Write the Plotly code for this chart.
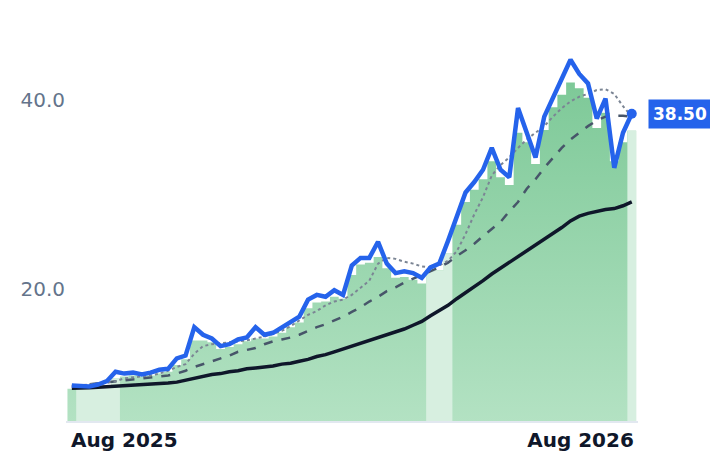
import pandas as pd
import plotly.graph_objects as go

dates = pd.date_range("2025-06-20", periods=65, freq="7D")

price = [9.85, 9.85, 9.75, 9.95, 10.3, 11.3, 11.1, 11.2, 11.0, 11.2, 11.5, 11.6, 12.7, 13.0, 16.0,
         15.2, 14.8, 14.0, 14.2, 14.7, 14.9, 16.0, 15.2, 15.4, 16.0, 16.5, 17.1, 18.9, 19.4, 19.2,
         19.9, 19.4, 22.5, 23.3, 23.3, 25.0, 22.7, 21.7, 21.9, 21.7, 21.2, 22.3, 22.7, 25.1, 27.7,
         30.2, 31.3, 32.6, 34.9, 32.6, 31.8, 39.1, 36.5, 33.9, 38.2, 40.1, 42.2, 44.2, 42.7, 41.7,
         38.0, 40.1, 32.8, 36.5, 38.5]

bars = [9.5, 9.5, 9.5, 9.6, 9.8, 10.6, 10.8, 10.9, 10.8, 10.9, 11.1, 11.3, 12.0, 12.6, 14.6,
        14.6, 14.4, 13.7, 13.9, 14.2, 14.5, 14.8, 14.8, 15.0, 15.4, 16.0, 16.5, 18.0, 18.6, 18.7,
        19.2, 19.0, 21.5, 22.6, 22.8, 23.4, 22.2, 21.2, 21.3, 21.0, 20.6, 21.9, 22.0, 23.8, 26.8,
        29.2, 30.5, 31.6, 33.5, 31.8, 31.0, 36.5, 35.5, 33.2, 36.8, 39.2, 40.5, 41.8, 41.2, 40.2,
        37.0, 38.6, 33.5, 35.5, 36.7]

# runs of pale bars (first index, last index)
light_runs = [(1, 5), (41, 43), (64, 64)]

ma_fast = [9.85, 9.85, 9.95, 10.05, 10.15, 10.3, 10.6, 10.7, 10.8, 10.9, 11.1, 11.4, 11.8, 12.1, 13.2,
           14.0, 14.2, 14.3, 14.4, 14.5, 14.6, 14.8, 15.0, 15.3, 15.6, 16.1, 16.7, 17.3, 17.7, 18.3,
           18.7, 18.9, 19.4, 20.2, 20.9, 22.7, 23.3, 23.2, 22.9, 22.7, 22.4, 22.3, 22.5, 23.0, 24.0,
           25.8, 27.9, 29.7, 32.0, 33.1, 33.9, 34.9, 35.8, 36.5, 37.2, 38.2, 39.1, 39.8, 40.3, 40.6,
           41.0, 41.1, 40.6, 39.3, 38.2]

ma_mid = [9.75, 9.85, 9.95, 10.05, 10.15, 10.25, 10.35, 10.45, 10.55, 10.65, 10.8, 10.9, 11.1, 11.4, 11.8,
          12.1, 12.4, 12.7, 13.0, 13.4, 13.6, 13.8, 14.2, 14.5, 14.7, 14.9, 15.2, 15.6, 16.0, 16.3,
          16.7, 17.1, 17.6, 18.1, 18.7, 19.2, 19.8, 20.2, 20.7, 21.1, 21.5, 21.9, 22.3, 22.8, 23.5,
          24.1, 24.8, 25.6, 26.3, 27.1, 28.2, 29.2, 30.6, 31.6, 32.8, 33.9, 34.9, 35.8, 36.5, 37.2,
          37.8, 38.2, 38.3, 38.3, 38.2]

ma_slow = [9.55, 9.55, 9.6, 9.65, 9.7, 9.75, 9.8, 9.85, 9.9, 9.95, 10.0, 10.1, 10.2, 10.4, 10.6,
           10.8, 11.0, 11.1, 11.3, 11.4, 11.6, 11.7, 11.8, 11.9, 12.1, 12.2, 12.4, 12.6, 12.9, 13.1,
           13.4, 13.7, 14.0, 14.3, 14.6, 14.9, 15.2, 15.5, 15.8, 16.2, 16.6, 17.2, 17.7, 18.3, 19.0,
           19.6, 20.2, 20.9, 21.6, 22.2, 22.8, 23.4, 24.0, 24.7, 25.3, 25.9, 26.5, 27.2, 27.7, 28.0,
           28.2, 28.4, 28.5, 28.8, 29.2]

half = pd.Timedelta(days=3.5)
step_x = list(dates - half) + [dates[-1] + half]
step_y = bars + [bars[-1]]

fig = go.Figure()
fig.add_trace(go.Scatter(x=step_x, y=step_y, mode="lines", line=dict(width=0, shape="hv"),
                         fill="tozeroy",
                         fillgradient=dict(type="vertical",
                                           colorscale=[[0, "#bce6ca"], [1, "#7ec998"]]),
                         hoverinfo="skip"))

# pale bars, one filled step segment per run
for a, b in light_runs:
    lx = [dates[i] - half for i in range(a, b + 1)] + [dates[b] + half]
    ly = bars[a:b + 1] + [bars[b]]
    fig.add_trace(go.Scatter(x=lx, y=ly, mode="lines", line=dict(width=0, shape="hv"),
                             fill="tozeroy", fillcolor="#d7efe0", hoverinfo="skip"))

fig.add_trace(go.Scatter(x=dates, y=ma_slow, mode="lines", line=dict(color="#0f172a", width=3.5)))
fig.add_trace(go.Scatter(x=dates, y=ma_mid, mode="lines",
                         line=dict(color="#475569", width=2.5, dash="dash")))
fig.add_trace(go.Scatter(x=dates, y=ma_fast, mode="lines",
                         line=dict(color="#7b8594", width=2, dash="dot")))
fig.add_trace(go.Scatter(x=dates, y=price, mode="lines", line=dict(color="#2563eb", width=4.5)))
fig.add_trace(go.Scatter(x=[dates[-1]], y=[price[-1]], mode="markers",
                         marker=dict(color="#2563eb", size=10)))

fig.add_annotation(x=dates[-1], y=price[-1], text="<b>38.50</b>", showarrow=False,
                   xshift=48, font=dict(color="white", size=17, family="DejaVu Sans"),
                   bgcolor="#2563eb", borderpad=4)

fig.update_layout(
    width=710, height=456, margin=dict(l=52, r=80, t=29, b=36),
    plot_bgcolor="white", paper_bgcolor="white", showlegend=False,
    font=dict(family="DejaVu Sans"),
)
fig.update_xaxes(range=[pd.Timestamp("2025-06-15 08:00"), pd.Timestamp("2026-09-16")],
                 tickvals=[pd.Timestamp("2025-08-01"), pd.Timestamp("2026-08-01")],
                 ticktext=["<b>Aug 2025</b>", "<b>Aug 2026</b>"],
                 tickfont=dict(size=20, color="#0f172a"), showgrid=False,
                 showline=True, linecolor="#e2e8f0", linewidth=2, ticks="")
fig.update_yaxes(range=[6.1, 46.6], tickvals=[20, 40], ticktext=["20.0", "40.0"],
                 tickfont=dict(size=20, color="#64748b"), showgrid=False, zeroline=False)

fig.write_html("out.html")
